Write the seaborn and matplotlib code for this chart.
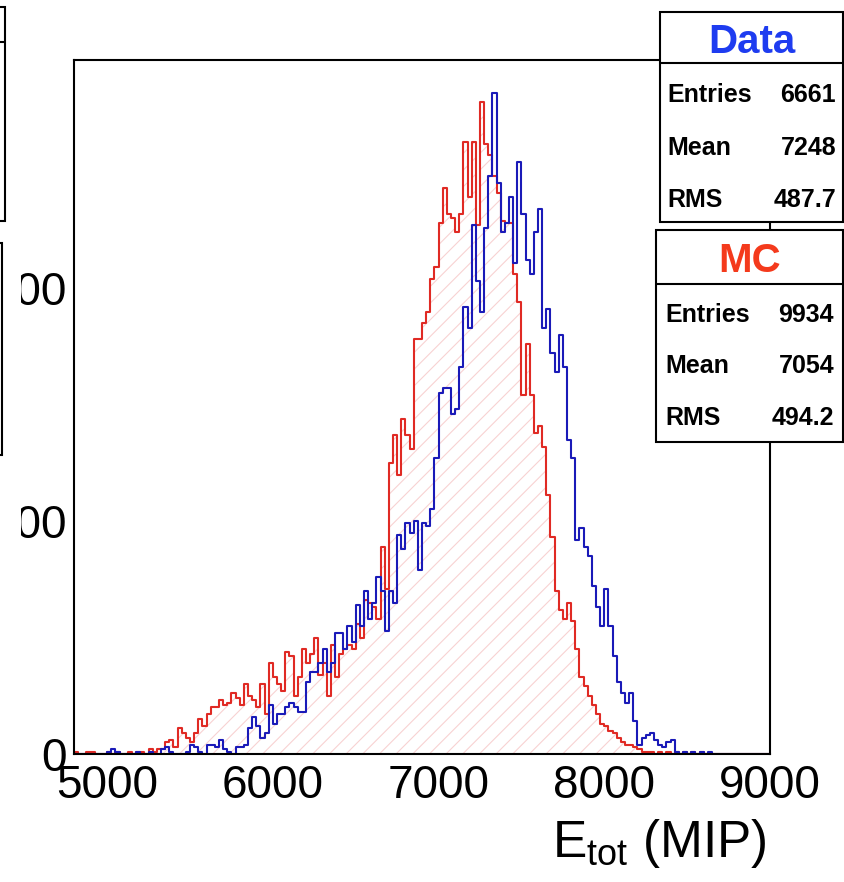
import numpy as np
import pandas as pd
import matplotlib
matplotlib.use("Agg")
import matplotlib.pyplot as plt
import seaborn as sns
from matplotlib.patches import Rectangle
from matplotlib.lines import Line2D
from matplotlib.transforms import Bbox

# ---------------- data (25 MIP bins starting at 4800) ----------------
bin_low = 4800
bin_width = 25
data_counts = [
    0, 0, 0, 0, 0, 0, 0, 0, 1, 2,
    1, 0, 0, 0, 0, 1, 0, 0, 1, 0,
    0, 2, 3, 1, 0, 0, 0, 1, 4, 3,
    1, 0, 4, 4, 3, 6, 2, 1, 0, 3,
    3, 4, 11, 16, 12, 7, 9, 21, 13, 17,
    17, 20, 22, 20, 18, 18, 31, 35, 35, 39,
    45, 35, 39, 52, 52, 45, 55, 48, 64, 55,
    70, 58, 65, 76, 70, 53, 70, 65, 94, 88,
    99, 95, 100, 79, 99, 98, 105, 127, 155, 157,
    157, 146, 148, 166, 192, 183, 227, 203, 190, 226,
    248, 284, 245, 224, 228, 239, 211, 254, 232, 212,
    206, 224, 234, 183, 191, 172, 164, 180, 166, 135,
    127, 92, 97, 89, 85, 72, 63, 55, 71, 55,
    42, 31, 26, 22, 26, 14, 4, 7, 8, 9,
    6, 4, 3, 5, 6, 1, 0, 1, 0, 1,
    0, 1, 0, 1, 0, 0, 0, 0, 0, 0,
    0, 0, 0, 0, 0, 0, 0, 0,
]
mc_counts = [
    1, 0, 0, 1, 1, 0, 0, 0, 1, 0,
    1, 0, 0, 1, 0, 1, 1, 0, 2, 1,
    2, 2, 5, 6, 3, 11, 9, 7, 5, 9,
    15, 12, 17, 20, 20, 23, 21, 22, 26, 24,
    21, 30, 25, 23, 20, 30, 17, 39, 33, 30,
    27, 44, 42, 25, 33, 45, 39, 43, 50, 34,
    39, 25, 47, 33, 43, 45, 47, 45, 56, 50,
    66, 65, 63, 58, 89, 71, 125, 137, 120, 144,
    137, 131, 178, 178, 185, 190, 204, 209, 228, 243,
    232, 230, 224, 232, 263, 239, 263, 227, 280, 262,
    257, 248, 241, 229, 228, 228, 206, 194, 154, 176,
    154, 138, 141, 132, 111, 93, 70, 62, 58, 65,
    57, 45, 33, 29, 25, 21, 17, 13, 12, 10,
    9, 7, 5, 4, 4, 3, 2, 1, 1, 1,
    0, 1, 0, 1, 0, 1, 0, 1, 0, 1,
    0, 1, 0, 0, 0, 0, 0, 0, 0, 0,
    0, 0, 0, 0, 0, 0, 0, 0,
]
x_ticks = [5000, 6000, 7000, 8000, 9000]
x_tick_labels = ["5000", "6000", "7000", "8000", "9000"]
y_ticks = [0, 100, 200]
y_tick_labels = ["0", "100", "200"]
x_label = r"E$_{\mathrm{tot}}$ (MIP)"
data_title = "Data"
mc_title = "MC"
stat_names = ["Entries", "Mean", "RMS"]
data_stat_values = ["6661", "7248", "487.7"]
mc_stat_values = ["9934", "7054", "494.2"]

n = len(data_counts)
edges = [bin_low + bin_width * k for k in range(n + 1)]
centers = [e + bin_width / 2.0 for e in edges[:-1]]
df_data = pd.DataFrame({"E": centers, "w": data_counts})
df_mc = pd.DataFrame({"E": centers, "w": mc_counts})

# ---------------- style ----------------
sns.set_style("white")
plt.rcParams["font.family"] = ["Liberation Sans", "DejaVu Sans"]
plt.rcParams["text.color"] = "black"
plt.rcParams["axes.labelcolor"] = "black"
plt.rcParams["xtick.color"] = "black"
plt.rcParams["ytick.color"] = "black"
plt.rcParams["mathtext.fontset"] = "custom"
plt.rcParams["mathtext.rm"] = "Liberation Sans"
plt.rcParams["mathtext.it"] = "Liberation Sans:italic"
plt.rcParams["hatch.linewidth"] = 0.8
plt.rcParams["hatch.color"] = "#f8d2d2"

BLUE = "#1a1ab8"
RED = "#e02a24"
HATCH = "#f8d2d2"
W, H = 844, 882
fig = plt.figure(figsize=(W / 100, H / 100), dpi=100)
fig.patch.set_facecolor("white")


def fx(px):
    return px / W


def fy(py):
    return 1 - py / H


ax = fig.add_axes([fx(74), fy(754), (770 - 74) / W, (754 - 60) / H])
ax.set_facecolor("white")

# MC hatched fill
sns.histplot(data=df_mc, x="E", weights="w", bins=edges, element="step",
             fill=True, ax=ax, color=RED)
fill_coll = ax.collections[-1]
fill_coll.set_facecolor("none")
fill_coll.set_edgecolor(HATCH)
fill_coll.set_hatch("//")
fill_coll.set_linewidth(0)

# outlines
sns.histplot(data=df_mc, x="E", weights="w", bins=edges, element="step",
             fill=False, ax=ax, color=RED, linewidth=1.5)
sns.histplot(data=df_data, x="E", weights="w", bins=edges, element="step",
             fill=False, ax=ax, color=BLUE, linewidth=1.5)

ax.set_xlim(4800, 9000)
ax.set_ylim(0, 298)
ax.set_xlabel("")
ax.set_ylabel("")
ax.set_xticks(x_ticks)
ax.set_xticklabels(x_tick_labels)
ax.set_yticks(y_ticks)
ax.set_yticklabels(y_tick_labels)
ax.tick_params(axis="x", direction="in", length=13.5, width=1.4,
               labelsize=33, pad=7, colors="black")
ax.tick_params(axis="y", direction="in", length=16, width=1.4,
               labelsize=33, pad=5, colors="black")
for sp in ax.spines.values():
    sp.set_visible(True)
    sp.set_linewidth(1.5)
    sp.set_color("black")

fig.text(fx(767), fy(857), x_label, ha="right", va="baseline", fontsize=37,
         color="black")

# ---------------- stat boxes ----------------
LW = 1.5


def stat_box(x0, x1, y0, ydiv, y1, title, tcolor, title_base, names, values,
             row_bases, lab_x, val_x):
    fig.add_artist(Rectangle((fx(x0), fy(y1)), (x1 - x0) / W, (y1 - y0) / H,
                             transform=fig.transFigure, facecolor="white",
                             edgecolor="black", linewidth=LW, zorder=10))
    fig.add_artist(Line2D([fx(x0), fx(x1)], [fy(ydiv), fy(ydiv)],
                          transform=fig.transFigure, color="black",
                          linewidth=LW, zorder=11))
    fig.text(fx((x0 + x1) / 2), fy(title_base), title, color=tcolor,
             fontsize=29, fontweight="bold", ha="center", va="baseline",
             zorder=12)
    for nm, vl, yb in zip(names, values, row_bases):
        fig.text(fx(lab_x), fy(yb), nm, fontsize=18, fontweight="bold",
                 ha="left", va="baseline", zorder=12, color="black")
        fig.text(fx(val_x), fy(yb), vl, fontsize=18, fontweight="bold",
                 ha="right", va="baseline", zorder=12, color="black")


stat_box(660, 843, 12, 63, 222, data_title, "#1e3cf0", 53, stat_names,
         data_stat_values, [102, 155, 207], 667, 836)
stat_box(656, 843, 230, 284, 442, mc_title, "#f43a1c", 272, stat_names,
         mc_stat_values, [322, 373, 425], 665, 834)

# partial boxes of the neighbouring pad (cut by the left edge)
fig.add_artist(Rectangle((fx(-20), fy(221)), 25 / W, 214 / H,
                         transform=fig.transFigure, facecolor="white",
                         edgecolor="black", linewidth=LW, zorder=10))
fig.add_artist(Line2D([fx(-20), fx(5)], [fy(42), fy(42)],
                      transform=fig.transFigure, color="black",
                      linewidth=LW, zorder=11))
fig.add_artist(Rectangle((fx(-20), fy(455)), 22 / W, 212 / H,
                         transform=fig.transFigure, facecolor="white",
                         edgecolor="black", linewidth=LW, zorder=10))

# y tick labels are cut by the neighbouring pad edge
fig.canvas.draw()
clip = Bbox.from_extents(21, 0, W, H)
for lab in ax.get_yticklabels():
    lab.set_clip_box(clip)
    lab.set_clip_on(True)

fig.savefig("out.png", dpi=100, facecolor="white")
